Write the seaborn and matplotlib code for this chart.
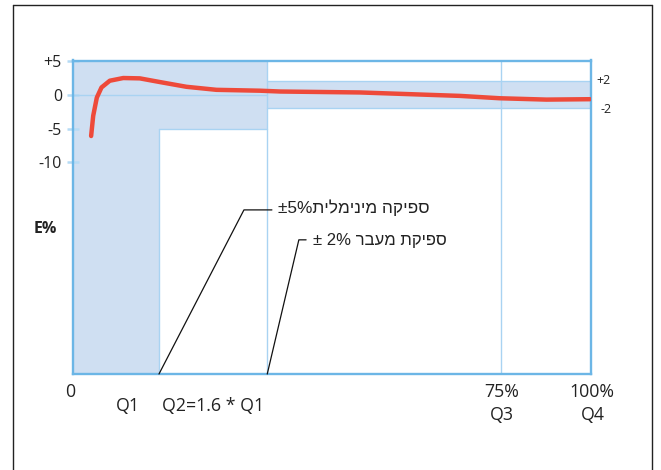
import matplotlib
matplotlib.use("Agg")
import matplotlib.pyplot as plt
import seaborn as sns
import pandas as pd
from matplotlib.patches import Rectangle

# ---------------- data ----------------
curve_x = [3.5, 3.9, 4.6, 5.5, 7.1, 9.7, 12.9, 16.8, 21.9, 27.7, 36.1, 40.0, 55.4, 74.7, 82.4, 91.4, 99.8]
curve_y = [-6.1, -3.1, -0.4, 1.1, 2.1, 2.5, 2.45, 1.9, 1.2, 0.75, 0.62, 0.5, 0.36, -0.15, -0.5, -0.7, -0.64]

q_positions = [0, 16.6, 37.5, 82.6, 100]          # 0, Q1, Q2, Q3, Q4
ytick_values = [5, 0, -5, -10]
ytick_labels = ["+5", "0", "-5", "-10"]
min_tol = 5        # ±5 % minimum-flow tolerance
trans_tol = 2      # ±2 % transition-flow tolerance
label_min = "±5%" + "ספיקה מינימלית"[::-1]
label_trans = "± 2% " + "ספיקת מעבר"[::-1]

# ---------------- style ----------------
sns.set_theme(style="white")
plt.rcParams["font.family"] = ["Open Sans", "DejaVu Sans"]

SHADE = "#cfdff2"
THIN = "#a9d3f2"
SPINE = "#6cb6e6"
RED = "#ee4a3a"
TXT = "#222222"

fig = plt.figure(figsize=(6.61, 4.70), dpi=100)
ax = fig.add_axes([73 / 661, 1 - 374 / 470, 518 / 661, (374 - 60.5) / 470])
ymin, ymax = -41.4, 5.1
ax.set_xlim(0, 100)
ax.set_ylim(ymin, ymax)

Q0, Q1, Q2, Q3, Q4 = q_positions

# shaded tolerance zones
ax.add_patch(Rectangle((Q0, ymin), Q1 - Q0, ymax - ymin, facecolor=SHADE, edgecolor="none", zorder=0))
ax.add_patch(Rectangle((Q1, -min_tol), Q2 - Q1, ymax + min_tol, facecolor=SHADE, edgecolor="none", zorder=0))
ax.add_patch(Rectangle((Q2, -trans_tol), Q4 - Q2, 2 * trans_tol, facecolor=SHADE, edgecolor="none", zorder=0))

# thin boundary lines
lw = 1.0
ax.plot([Q0, Q2], [0, 0], color=THIN, lw=lw, zorder=1)
ax.plot([Q1, Q2], [-min_tol, -min_tol], color=THIN, lw=lw, zorder=1)
ax.plot([Q1, Q1], [ymin, -min_tol], color=THIN, lw=lw, zorder=1)
ax.plot([Q2, Q2], [ymin, ymax], color=THIN, lw=lw, zorder=1)
ax.plot([Q2, Q4], [trans_tol, trans_tol], color=THIN, lw=lw, zorder=1)
ax.plot([Q2, Q4], [-trans_tol, -trans_tol], color=THIN, lw=lw, zorder=1)
ax.plot([Q3, Q3], [ymin, ymax], color=THIN, lw=lw, zorder=1)

# error curve
df = pd.DataFrame({"Q": curve_x, "E": curve_y})
sns.lineplot(data=df, x="Q", y="E", ax=ax, color=RED, lw=3.2, sort=False, zorder=3,
             solid_capstyle="round")

# spines
for s in ax.spines.values():
    s.set_color(SPINE)
    s.set_linewidth(1.7)
    s.set_visible(True)

# y ticks
ax.set_yticks(ytick_values)
ax.set_yticklabels(ytick_labels, fontsize=11.5, color=TXT)
ax.tick_params(axis="y", direction="inout", length=8, width=1.8, color="#b5dbf5", pad=4, left=True)
ax.set_xticks([])
ax.set_xlabel("")
ax.set_ylabel("")

# x labels (as text)
tx = ax.get_xaxis_transform()
def ypos(py):
    return 1 - (py - 60.5) / (374 - 60.5)
fs = 12.8
ax.text(-0.5, ypos(392), "0", transform=tx, ha="center", va="center", fontsize=fs, color=TXT)
ax.text(10.5, ypos(406), "Q1", transform=tx, ha="center", va="center", fontsize=fs, color=TXT)
ax.text(27.0, ypos(406), "Q2=1.6 * Q1", transform=tx, ha="center", va="center", fontsize=fs, color=TXT)
ax.text(Q3 + 0.2, ypos(392), "75%", transform=tx, ha="center", va="center", fontsize=fs, color=TXT)
ax.text(Q3 + 0.2, ypos(415), "Q3", transform=tx, ha="center", va="center", fontsize=fs, color=TXT)
ax.text(Q4 + 0.1, ypos(392), "100%", transform=tx, ha="center", va="center", fontsize=fs, color=TXT)
ax.text(Q4 + 0.4, ypos(415), "Q4", transform=tx, ha="center", va="center", fontsize=fs, color=TXT)

# right side tolerance labels
ax.text(101.0, trans_tol + 0.1, "+2", ha="left", va="center", fontsize=9, color=TXT, clip_on=False)
ax.text(101.9, -trans_tol - 0.1, "-2", ha="left", va="center", fontsize=9, color=TXT, clip_on=False)

# E% label
fig.text(45 / 661, 1 - 229 / 470, "E%", ha="center", va="center", fontsize=11.5, fontweight="bold", color=TXT)

# leader lines + Hebrew labels
heb_font = ["Liberation Sans", "DejaVu Sans"]
ax.plot([Q1, 33.0, 38.4], [ymin, -17.06, -17.06], color="#111111", lw=0.9, clip_on=False, zorder=4)
ax.text(39.6, -16.7, label_min, ha="left", va="center", fontsize=12.4, color=TXT, family=heb_font)
ax.plot([Q2, 43.6, 45.0], [ymin, -21.5, -21.5], color="#111111", lw=0.9, clip_on=False, zorder=4)
ax.text(46.3, -21.6, label_trans, ha="left", va="center", fontsize=12.0, color=TXT, family=heb_font)

# outer black frame (open at the bottom)
fx0, fx1, fy = 12.7 / 661, 651.5 / 661, 1 - 5.3 / 470
fig.add_artist(plt.Line2D([fx0, fx0], [0, fy], color=TXT, lw=1.0, transform=fig.transFigure))
fig.add_artist(plt.Line2D([fx0, fx1], [fy, fy], color=TXT, lw=1.0, transform=fig.transFigure))
fig.add_artist(plt.Line2D([fx1, fx1], [0, fy], color=TXT, lw=1.0, transform=fig.transFigure))

fig.savefig("out.png", dpi=100)
